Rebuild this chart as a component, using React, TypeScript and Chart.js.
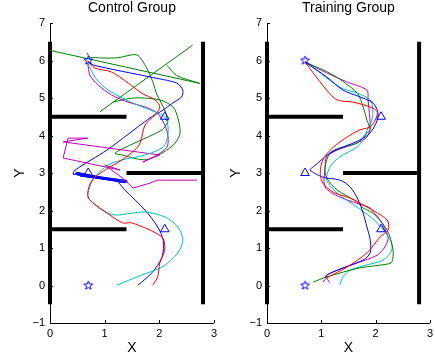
import React, { useEffect, useRef } from "react";
import { Chart, registerables } from "chart.js";
Chart.register(...registerables);

type Pt = [number, number];

const FONT = "'Liberation Sans', Arial, Helvetica, sans-serif";
const RED = "#ff0000";
const BLUE = "#0000ff";
const GREEN = "#008000";
const CYAN = "#00bfbf";
const MAGENTA = "#bf00bf";

const xTicks = [0, 1, 2, 3];
const yTicks = [-1, 0, 1, 2, 3, 4, 5, 6, 7];
const titles = ["Control Group", "Training Group"];

const walls: Pt[][] = [
  [[0, -0.5], [0, 6.5]],
  [[2.8, -0.5], [2.8, 6.5]],
  [[0, 4.5], [1.4, 4.5]],
  [[0, 1.5], [1.4, 1.5]],
  [[1.4, 3], [2.8, 3]],
];
const stars: Pt[] = [[0.7, 6], [0.7, 0]];
const triangles: Pt[] = [[2.1, 4.5], [0.7, 3], [2.1, 1.5]];

// ---- Control group trajectories ----
const redCtrl: Pt[] = [
  [0.69, 5.99], [0.82, 5.8], [1.13, 5.69], [1.43, 5.4], [1.68, 5.13], [1.92, 4.95],
  [2.01, 4.76], [1.92, 4.55], [1.74, 4.28], [1.65, 3.8], [1.55, 3.61], [1.32, 3.35],
  [1.01, 3.08], [0.77, 2.81], [0.69, 2.47], [0.73, 2.28], [0.97, 2.01], [1.33, 1.67],
  [1.5, 1.67], [2.05, 1.29], [2.1, 0.95], [2.01, 0.6], [1.97, 0.23], [1.88, 0.01],
];
const cyanCtrl: Pt[] = [
  [0.69, 5.93], [0.82, 5.56], [1.01, 5.27], [1.32, 5.0], [1.61, 4.81], [1.92, 4.63],
  [2.1, 4.49], [2.16, 4.23], [2.14, 3.88], [2.05, 3.67], [1.74, 3.48], [1.32, 3.35],
  [1.06, 3.21], [0.82, 2.89], [0.73, 2.63], [0.69, 2.36], [0.77, 2.23], [0.95, 2.01],
  [1.19, 1.88], [1.5, 1.93], [1.74, 1.96], [2.1, 1.83], [2.34, 1.56], [2.43, 1.21],
  [2.34, 0.87], [2.05, 0.49], [1.68, 0.28], [1.22, 0.01],
];
const magentaCtrlA: Pt[] = [
  [0.69, 5.93], [0.73, 5.61], [0.88, 5.35], [1.13, 5.08], [1.43, 4.89], [1.74, 4.76],
  [1.96, 4.6], [2.1, 4.28], [2.16, 3.96], [2.14, 3.69], [1.96, 3.48], [1.7, 3.29],
];
const magentaCtrlB: Pt[] = [
  [1.7, 3.29], [1.86, 3.4], [2.01, 3.48], [0.24, 3.83], [0.69, 3.93], [0.33, 3.93],
  [0.24, 3.4], [1.28, 3.08], [1.01, 3.21], [1.32, 2.87], [1.52, 2.6], [1.83, 2.73],
  [1.96, 2.81], [2.69, 2.81],
];
const blueCtrlA: Pt[] = [
  [0.69, 5.99], [0.79, 5.88], [1.83, 5.56], [2.32, 5.4], [2.43, 5.21], [2.41, 5.03],
  [2.25, 4.87], [2.07, 4.68], [1.83, 4.47], [1.41, 4.01], [1.04, 3.61], [0.46, 3.08],
  [0.42, 2.97],
];
const blueCtrlB: Pt[] = [
  [0.42, 2.97], [1.41, 2.8], [0.46, 2.99], [1.38, 2.74], [0.5, 2.95], [1.42, 2.76],
  [0.55, 2.92], [1.3, 2.77], [0.48, 3.02], [1.22, 2.81],
];
const blueCtrlC: Pt[] = [
  [1.22, 2.81], [1.37, 2.55], [1.74, 2.01], [1.97, 1.56], [2.07, 1.21], [2.05, 0.76],
  [1.86, 0.33], [1.61, 0.01],
];
const greenCtrlA: Pt[] = [[0, 6.27], [2.74, 5.39]];
const greenCtrlB: Pt[] = [[2.74, 5.39], [2.32, 5.6], [2.14, 5.87]];
const greenCtrlC: Pt[] = [[0.91, 4.63], [2.61, 6.41]];
const greenCtrlD: Pt[] = [
  [0.68, 6.2], [0.73, 6.09], [1.22, 6.07], [1.59, 6.15], [1.77, 5.8], [1.88, 5.43],
  [1.96, 5.08], [2.1, 4.68], [2.16, 4.36],
];
const greenCtrlE: Pt[] = [
  [1.15, 4.89], [1.52, 5.0], [2.01, 4.95], [2.25, 4.76], [2.34, 4.47], [2.38, 4.07],
  [2.29, 3.8], [2.05, 3.53], [1.74, 3.35], [1.32, 3.48], [1.19, 3.53], [1.55, 3.8],
  [2.05, 4.15], [2.16, 4.36],
];

// ---- Training group trajectories ----
const redTrain: Pt[] = [
  [0.7, 5.96], [0.85, 5.67], [1.1, 5.21], [1.29, 4.95], [1.58, 4.89], [1.9, 4.76],
  [2.03, 4.63], [1.99, 4.41], [1.9, 4.23], [1.71, 4.15], [1.53, 4.01], [1.22, 3.69],
  [1.03, 3.35], [0.98, 3.0], [1.03, 2.73], [1.22, 2.49], [1.53, 2.33], [1.71, 2.2],
  [2.21, 1.75], [2.23, 1.48], [2.08, 1.29], [1.84, 0.87], [1.47, 0.49], [1.1, 0.2],
  [1.03, 0.09],
];
const blueTrain: Pt[] = [
  [0.7, 5.96], [1.1, 5.56], [1.4, 5.21], [1.71, 5.03], [1.95, 4.87], [2.04, 4.63],
  [2.03, 4.41], [1.9, 4.07], [1.71, 3.88], [1.4, 3.69], [1.16, 3.53], [0.85, 3.16],
  [0.79, 3.08], [1.03, 2.89], [1.34, 2.81], [1.53, 2.63], [1.68, 2.28], [1.77, 1.93],
  [1.84, 1.56], [1.9, 1.21], [1.9, 0.87], [1.77, 0.68], [1.4, 0.47], [1.1, 0.28],
  [1.07, 0.2],
];
const greenTrain: Pt[] = [
  [0.7, 5.96], [1.22, 5.61], [1.66, 5.13], [1.77, 4.76], [1.84, 4.41], [1.9, 4.15],
  [1.84, 4.07], [1.66, 3.8], [1.34, 3.67], [1.16, 3.53], [1.07, 3.16], [1.1, 2.87],
  [1.29, 2.55], [1.66, 2.23], [1.77, 2.07], [1.95, 1.93], [2.21, 1.48], [2.32, 0.95],
  [2.3, 0.63], [2.21, 0.57], [1.71, 0.47], [1.1, 0.23], [0.85, 0.09],
];
const cyanTrain: Pt[] = [
  [0.7, 5.96], [0.98, 5.67], [1.34, 5.29], [1.66, 5.13], [1.9, 4.95], [1.95, 4.68],
  [1.93, 4.41], [1.86, 4.2], [1.77, 3.88], [1.66, 3.69], [1.34, 3.43], [1.16, 3.16],
  [1.1, 2.81], [1.29, 2.47], [1.66, 2.09], [2.03, 1.67], [2.27, 1.21], [2.3, 0.95],
  [2.14, 0.68], [1.84, 0.55], [1.53, 0.41], [1.4, 0.23], [1.34, 0.01],
];
const magentaTrain: Pt[] = [
  [0.7, 5.96], [1.1, 5.67], [1.47, 5.43], [1.84, 5.21], [1.86, 4.95], [1.9, 4.23],
  [1.84, 3.96], [1.66, 3.8], [1.29, 3.61], [1.1, 3.43], [1.07, 3.16], [1.07, 2.63],
  [1.34, 2.36], [1.9, 2.07], [1.93, 2.01], [2.08, 1.75], [2.23, 1.29], [2.17, 1.03],
  [2.03, 0.81], [1.66, 0.6], [1.1, 0.28], [1.12, 0.15], [1.16, 0.07],
];

type Line = { pts: Pt[]; color: string; tension: number };

const controlLines: Line[] = [
  { pts: redCtrl, color: RED, tension: 0.3 },
  { pts: cyanCtrl, color: CYAN, tension: 0.3 },
  { pts: magentaCtrlA, color: MAGENTA, tension: 0.3 },
  { pts: magentaCtrlB, color: MAGENTA, tension: 0 },
  { pts: blueCtrlA, color: BLUE, tension: 0.25 },
  { pts: blueCtrlB, color: BLUE, tension: 0 },
  { pts: blueCtrlC, color: BLUE, tension: 0.3 },
  { pts: greenCtrlA, color: GREEN, tension: 0 },
  { pts: greenCtrlB, color: GREEN, tension: 0.3 },
  { pts: greenCtrlC, color: GREEN, tension: 0 },
  { pts: greenCtrlD, color: GREEN, tension: 0.25 },
  { pts: greenCtrlE, color: GREEN, tension: 0.3 },
];
const trainingLines: Line[] = [
  { pts: redTrain, color: RED, tension: 0.3 },
  { pts: blueTrain, color: BLUE, tension: 0.3 },
  { pts: greenTrain, color: GREEN, tension: 0.3 },
  { pts: cyanTrain, color: CYAN, tension: 0.3 },
  { pts: magentaTrain, color: MAGENTA, tension: 0.3 },
];

const toXY = (a: Pt[]) => a.map(([x, y]) => ({ x, y }));

function makeStar(color: string): HTMLCanvasElement {
  const c = document.createElement("canvas");
  c.width = 11;
  c.height = 11;
  const g = c.getContext("2d")!;
  g.strokeStyle = color;
  g.lineWidth = 1;
  g.beginPath();
  for (let i = 0; i < 10; i++) {
    const r = i % 2 === 0 ? 4.6 : 1.9;
    const a = -Math.PI / 2 + (i * Math.PI) / 5;
    const px = 5.5 + r * Math.cos(a);
    const py = 5.5 + r * Math.sin(a);
    if (i === 0) g.moveTo(px, py);
    else g.lineTo(px, py);
  }
  g.closePath();
  g.stroke();
  return c;
}

const inwardTicks = {
  id: "inwardTicks",
  afterDraw(chart: any) {
    const { ctx, chartArea, scales } = chart;
    ctx.save();
    ctx.strokeStyle = "#000";
    ctx.lineWidth = 1;
    ctx.beginPath();
    for (const v of xTicks) {
      const px = Math.round(scales.x.getPixelForValue(v)) + 0.5;
      ctx.moveTo(px, chartArea.bottom);
      ctx.lineTo(px, chartArea.bottom - 3);
    }
    for (const v of yTicks) {
      const py = Math.round(scales.y.getPixelForValue(v)) + 0.5;
      ctx.moveTo(chartArea.left, py);
      ctx.lineTo(chartArea.left + 3, py);
    }
    ctx.stroke();
    ctx.restore();
  },
};

function makeConfig(title: string, lines: Line[], star: HTMLCanvasElement, yTitlePad: number): any {
  const datasets: any[] = [
    {
      data: toXY(stars),
      showLine: false,
      pointStyle: star,
      pointRadius: 5,
      borderColor: BLUE,
    },
    {
      data: toXY(triangles),
      showLine: false,
      pointStyle: "triangle",
      pointRadius: 5,
      borderColor: BLUE,
      backgroundColor: "rgba(0,0,0,0)",
      pointBorderWidth: 1,
    },
    ...lines.map((l) => ({
      data: toXY(l.pts),
      showLine: true,
      pointRadius: 0,
      borderColor: l.color,
      borderWidth: 1,
      tension: l.tension,
    })),
    ...walls.map((w) => ({
      data: toXY(w),
      showLine: true,
      pointRadius: 0,
      borderColor: "#000",
      borderWidth: 4,
      tension: 0,
      clip: false,
    })),
  ];
  return {
    type: "scatter",
    data: { datasets },
    options: {
      animation: false,
      responsive: false,
      maintainAspectRatio: false,
      layout: { padding: { left: 0, right: 0, top: 0, bottom: 0 } },
      plugins: {
        legend: { display: false },
        tooltip: { enabled: false },
        title: {
          display: true,
          text: title,
          fullSize: false,
          color: "#000",
          font: { family: FONT, size: 14, weight: "normal" },
          padding: { top: 0, bottom: 6.2 },
        },
      },
      scales: {
        x: {
          type: "linear",
          min: 0,
          max: 3,
          afterFit: (s: any) => {
            s.height = 35;
          },
          afterBuildTicks: (s: any) => {
            s.ticks = xTicks.map((v) => ({ value: v }));
          },
          grid: { display: false, drawTicks: false },
          border: { display: true, color: "#000", width: 1 },
          ticks: {
            color: "#000",
            font: { family: FONT, size: 11 },
            padding: 4,
            maxRotation: 0,
            autoSkip: false,
          },
          title: {
            display: true,
            text: "X",
            color: "#000",
            font: { family: FONT, size: 14 },
            padding: { top: 0, bottom: 1.6 },
          },
        },
        y: {
          type: "linear",
          min: -1,
          max: 7,
          afterFit: (s: any) => {
            s.width = 50;
          },
          afterBuildTicks: (s: any) => {
            s.ticks = yTicks.map((v) => ({ value: v }));
          },
          grid: { display: false, drawTicks: false },
          border: { display: true, color: "#000", width: 1 },
          ticks: {
            color: "#000",
            font: { family: FONT, size: 11 },
            padding: 5,
            autoSkip: false,
            callback: (v: number) => (v < 0 ? "\u2212" + Math.abs(v) : String(v)),
          },
          title: {
            display: true,
            text: "Y",
            color: "#000",
            font: { family: FONT, size: 14 },
            padding: { top: yTitlePad, bottom: 0 },
          },
        },
      },
    },
    plugins: [inwardTicks],
  };
}

export default function App() {
  const ref1 = useRef<HTMLCanvasElement>(null);
  const ref2 = useRef<HTMLCanvasElement>(null);

  useEffect(() => {
    const star = makeStar(BLUE);
    const c1 = new Chart(ref1.current!, makeConfig(titles[0], controlLines, star, 11.6));
    const c2 = new Chart(ref2.current!, makeConfig(titles[1], trainingLines, star, 10.6));
    return () => {
      c1.destroy();
      c2.destroy();
    };
  }, []);

  return (
    <div
      style={{
        position: "absolute",
        left: 0,
        top: 0,
        width: 435,
        height: 358,
        background: "#fff",
        overflow: "hidden",
      }}
    >
      <canvas
        ref={ref1}
        width={221}
        height={358}
        style={{ position: "absolute", left: 0, top: 0, width: 221, height: 358 }}
      />
      <canvas
        ref={ref2}
        width={220}
        height={358}
        style={{ position: "absolute", left: 217, top: 0, width: 220, height: 358 }}
      />
    </div>
  );
}
